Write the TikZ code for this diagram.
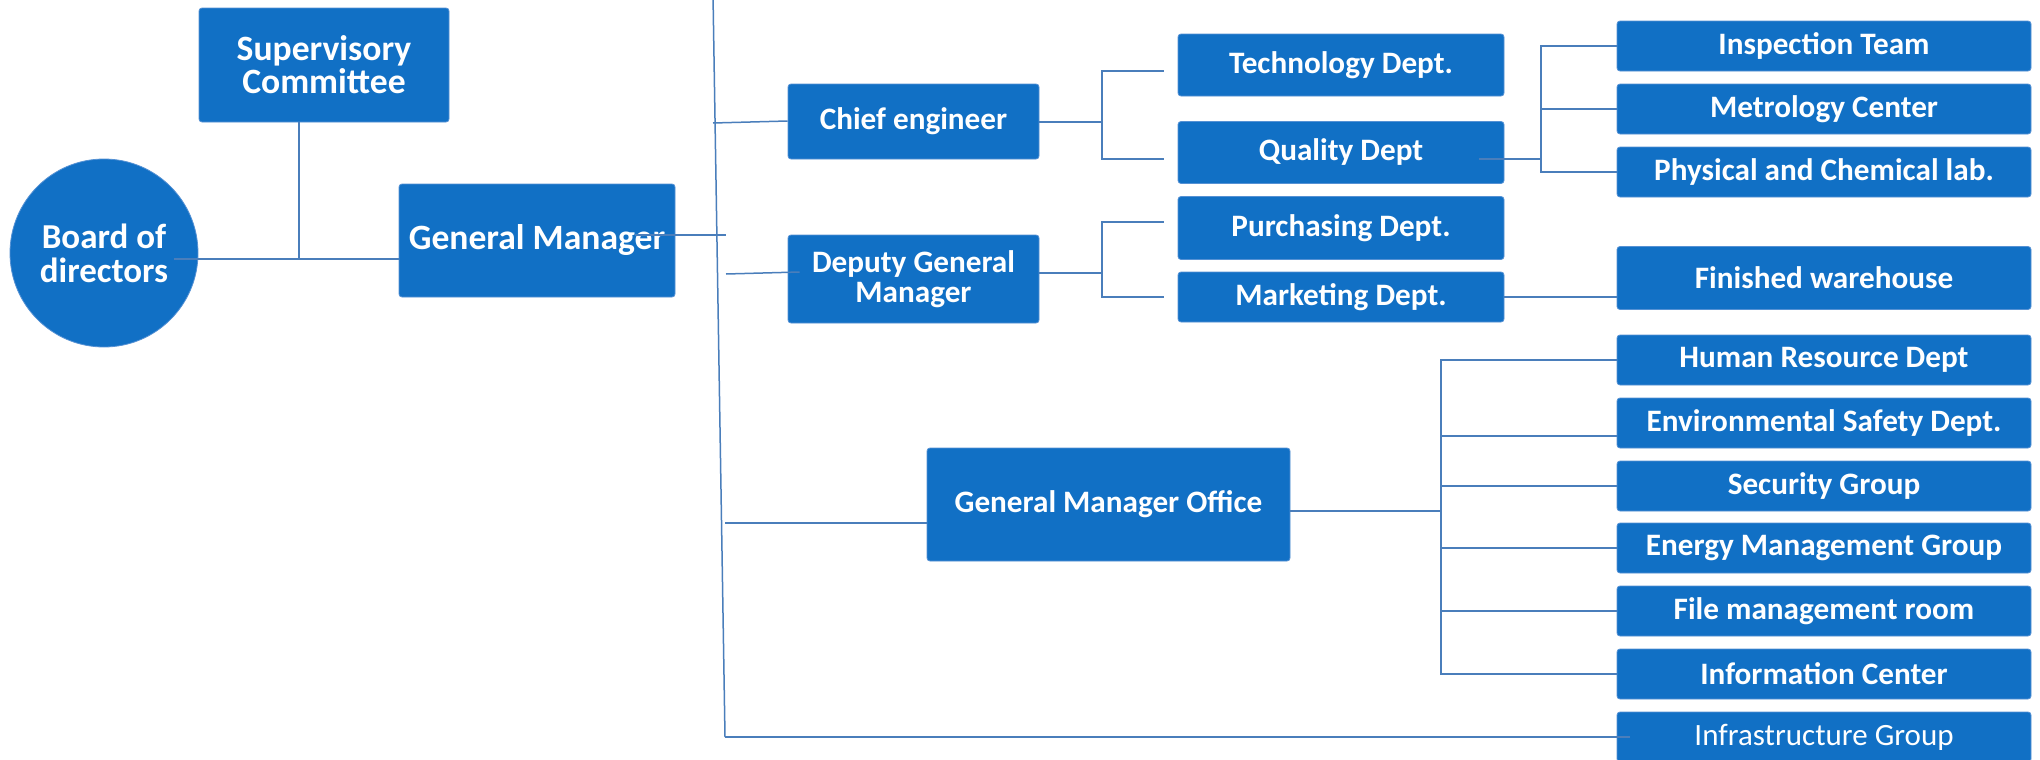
\documentclass[tikz,border=0pt]{standalone}
\usepackage{fontspec}
\setmainfont{Carlito}
\usetikzlibrary{calc}
\definecolor{boxblue}{RGB}{17,112,197}
\definecolor{edgeblue}{RGB}{85,145,212}
\definecolor{linkblue}{RGB}{74,126,187}
\tikzset{
  box/.style={rectangle, rounded corners=1.5pt, fill=boxblue, draw=edgeblue, line width=0.4pt,
    text=white, font=\fontsize{15.6}{15}\selectfont\bfseries, align=center, inner sep=0pt},
  bigbox/.style={box, font=\fontsize{17.8}{16.5}\selectfont\bfseries},
  rbox/.style={box, minimum width=207pt, minimum height=25pt},
  mbox/.style={box, minimum width=163pt},
  link/.style={draw=linkblue, line width=1pt},
  thinlink/.style={draw=linkblue, line width=0.75pt},
}
\begin{document}
\begin{tikzpicture}[x=0.5pt,y=-0.5pt]
\clip (0,0) rectangle (2040,760);
\fill[white] (0,0) rectangle (2040,760);
% left part
\node[bigbox, minimum width=125pt, minimum height=57pt] (sc) at (324,65) {Supervisory\\Committee};
\node[circle, fill=boxblue, draw=edgeblue, line width=0.4pt, minimum size=94pt, inner sep=0pt,
  text=white, align=center, font=\fontsize{17.5}{17}\selectfont\bfseries] (board) at (104,253) {Board of\\directors};
\node[bigbox, minimum width=138pt, minimum height=56.5pt] (gm) at (537,240.5) {General Manager};
% second level
\node[box, minimum width=125.5pt, minimum height=37.5pt] (ce) at (913.5,121.5) {Chief engineer};
\node[box, minimum width=125.5pt, minimum height=44pt] (dgm) at (913.5,279) {Deputy General\\Manager};
\node[box, minimum width=181.5pt, minimum height=56.5pt] (gmo) at (1108.5,504.5) {General Manager Office};
% third level
\node[mbox, minimum height=31pt] (tech) at (1341,65) {Technology Dept.};
\node[mbox, minimum height=31pt] (qual) at (1341,152.5) {Quality Dept};
\node[mbox, minimum height=31.5pt] (pur) at (1341,228) {Purchasing Dept.};
\node[mbox, minimum height=25pt] (mkt) at (1341,297) {Marketing Dept.};
% right column
\node[rbox] (insp) at (1824,46) {Inspection Team};
\node[rbox] (met) at (1824,109) {Metrology Center};
\node[rbox] (phys) at (1824,172) {Physical and Chemical lab.};
\node[rbox, minimum height=31.5pt] (fw) at (1824,278) {Finished warehouse};
\node[rbox] (hr) at (1824,360) {Human Resource Dept};
\node[rbox] (env) at (1824,423) {Environmental Safety Dept.};
\node[rbox] (sec) at (1824,486) {Security Group};
\node[rbox] (energy) at (1824,548) {Energy Management Group};
\node[rbox] (file) at (1824,611) {File management room};
\node[rbox] (info) at (1824,674) {Information Center};
\node[rbox, font=\fontsize{15.5}{15}\selectfont] (infra) at (1824,737) {Infrastructure Group};
% coordinates
\coordinate (j1) at (299,259);
\coordinate (trunkTop) at (713,-5);
\coordinate (trunkBot) at (725,737);
\coordinate (gmT) at (726,235);
\coordinate (ceT) at (713,123);
\coordinate (dgT) at (726,274);
\coordinate (gmoT) at (725,523);
\coordinate (b1) at (1102,0);
\coordinate (b3) at (1541,0);
\coordinate (b4) at (1441,0);
% top-left connectors
\draw[link] ($(board.center)+(70,6)$) -- (j1) -- (j1 -| gm.west);
\draw[link] (sc.south -| j1) -- (j1);
% trunk
\draw[thinlink] (trunkTop) -- (trunkBot);
\draw[thinlink] ($(gm.east)+(-40,-5.5)$) -- (gmT);
\draw[thinlink] (ceT) -- ($(ce.west)+(0,-0.5)$);
\draw[thinlink] (dgT) -- ($(dgm.west)+(12,-7)$);
\draw[link] (gmoT) -- (gmoT -| gmo.west);
\draw[link] (trunkBot) -- ($(infra.west)+(13,0)$);
% chief engineer bracket
\coordinate (techIn) at ($(tech.west)+(-14,6)$);
\coordinate (qualIn) at ($(qual.west)+(-14,6.5)$);
\draw[link] (ce.east) -- (ce.east -| b1);
\draw[link] (techIn) -| (qualIn -| b1) -- (qualIn);
% deputy bracket
\coordinate (dgmOut) at ($(dgm.east)+(0,-6)$);
\coordinate (purIn) at ($(pur.west)+(-14,-6)$);
\coordinate (mktIn) at ($(mkt.west)+(-14,0)$);
\draw[link] (dgmOut) -- (dgmOut -| b1);
\draw[link] (purIn) -| (mktIn -| b1) -- (mktIn);
% quality bracket
\coordinate (qualOut) at ($(qual.east)+(-25,6.5)$);
\draw[link] (qualOut) -- (qualOut -| b3);
\draw[link] (insp.west) -| (phys.west -| b3) -- (phys.west);
\draw[link] (met.west -| b3) -- (met.west);
% marketing
\draw[link] (mkt.east) -- (mkt.east -| fw.west);
% GMO bracket
\coordinate (gmoOut) at ($(gmo.east)+(0,6.5)$);
\coordinate (envIn) at ($(env.west)+(0,13)$);
\draw[link] (gmoOut) -- (gmoOut -| b4);
\draw[link] (hr.west) -| (info.west -| b4) -- (info.west);
\draw[link] (envIn -| b4) -- (envIn);
\draw[link] (sec.west -| b4) -- (sec.west);
\draw[link] (energy.west -| b4) -- (energy.west);
\draw[link] (file.west -| b4) -- (file.west);
\end{tikzpicture}
\end{document}
